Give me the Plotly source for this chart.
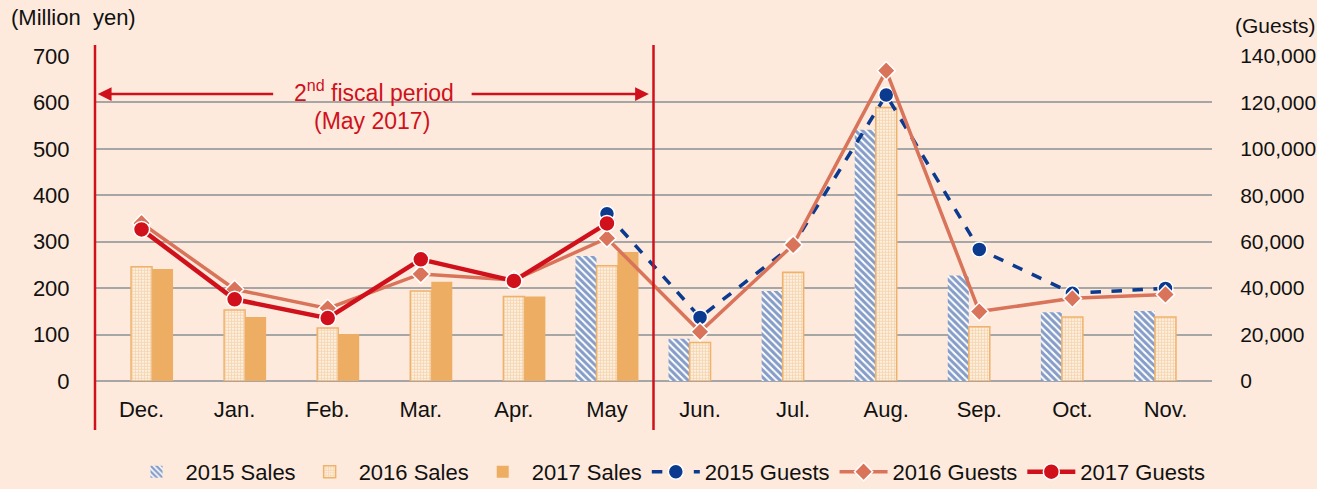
import plotly.graph_objects as go

months = ["Dec.", "Jan.", "Feb.", "Mar.", "Apr.", "May", "Jun.", "Jul.", "Aug.", "Sep.", "Oct.", "Nov."]
sales_2015 = [None, None, None, None, None, 269, 91, 194, 541, 227, 148, 151]
sales_2016 = [246, 153, 114, 194, 182, 248, 83, 234, 589, 117, 138, 138]
sales_2017 = [241, 138, 101, 214, 182, 278, None, None, None, None, None, None]
guests_2015 = [None, None, None, None, None, 72000, 27400, 58600, 123200, 56700, 37800, 39900]
guests_2016 = [68000, 39500, 31300, 46100, 43500, 61500, 21200, 58600, 133700, 29900, 35600, 37300]
guests_2017 = [65300, 35200, 27100, 52400, 43100, 67900, None, None, None, None, None, None]
left_ticks = [0, 100, 200, 300, 400, 500, 600, 700]
right_ticks = [0, 20000, 40000, 60000, 80000, 100000, 120000, 140000]

x = list(range(len(months)))
BG = "#FDEADC"
RED = "#D0111C"
ORANGE = "#EDAE64"
BLUE = "#0B3A8F"
SALMON = "#D9735A"
FONT = "Liberation Sans, Arial, sans-serif"
FS = 22

fig = go.Figure()
fig.add_trace(go.Bar(
    x=x, y=sales_2015, name="2015 Sales",
    marker=dict(color="white", line=dict(width=0),
                pattern=dict(shape="\\", fgcolor=BLUE, bgcolor="white", size=5, solidity=0.6)),
))
fig.add_trace(go.Bar(
    x=x, y=sales_2016, name="2016 Sales",
    marker=dict(color="white", line=dict(width=1.5, color="#EFB26C"),
                pattern=dict(shape=".", fgcolor=ORANGE, bgcolor="white", size=3, solidity=0.7)),
))
fig.add_trace(go.Bar(
    x=x, y=sales_2017, name="2017 Sales",
    marker=dict(color=ORANGE, line=dict(width=0)),
))
fig.add_trace(go.Scatter(
    x=x, y=guests_2015, name="2015 Guests", yaxis="y2", mode="lines+markers",
    line=dict(color=BLUE, width=3.5, dash="dash"),
    marker=dict(symbol="circle", size=15, color=BLUE, line=dict(color="white", width=1.5)),
))
fig.add_trace(go.Scatter(
    x=x, y=guests_2016, name="2016 Guests", yaxis="y2", mode="lines+markers",
    line=dict(color=SALMON, width=3.5),
    marker=dict(symbol="diamond", size=14, color=SALMON, line=dict(color="white", width=1.5)),
))
fig.add_trace(go.Scatter(
    x=x, y=guests_2017, name="2017 Guests", yaxis="y2", mode="lines+markers",
    line=dict(color=RED, width=4.5),
    marker=dict(symbol="circle", size=16, color=RED, line=dict(color="white", width=1.5)),
))

shapes = [
    dict(type="line", xref="paper", yref="paper", x0=0, x1=0, y0=-0.151, y1=1.034,
         line=dict(color=RED, width=2.5), layer="above"),
    dict(type="line", xref="paper", yref="paper", x0=0.5, x1=0.5, y0=-0.151, y1=1.034,
         line=dict(color=RED, width=2.5), layer="above"),
]

annotations = [
    dict(xref="x", yref="y", axref="x", ayref="y", x=-0.47, y=618, ax=1.43, ay=618,
         text="", showarrow=True, arrowhead=2, arrowsize=1.1, arrowwidth=2.5, arrowcolor=RED),
    dict(xref="x", yref="y", axref="x", ayref="y", x=5.45, y=618, ax=3.53, ay=618,
         text="", showarrow=True, arrowhead=2, arrowsize=1.1, arrowwidth=2.5, arrowcolor=RED),
    dict(xref="x", yref="y", x=2.5, y=625, text="2<sup>nd</sup> fiscal period", showarrow=False,
         font=dict(family=FONT, size=23, color=RED)),
    dict(xref="x", yref="y", x=2.48, y=560, text="(May 2017)", showarrow=False,
         font=dict(family=FONT, size=23, color=RED)),
    dict(xref="paper", yref="paper", x=-0.077, y=1.117, xanchor="left", yanchor="middle",
         text="(Million  yen)", showarrow=False, font=dict(family=FONT, size=FS, color="#111")),
    dict(xref="paper", yref="paper", x=1.019, y=1.095, xanchor="left", yanchor="middle",
         text="(Guests)", showarrow=False, font=dict(family=FONT, size=21, color="#111")),
]

fig.update_layout(
    width=1317, height=489,
    margin=dict(l=95, r=105, t=56, b=108, autoexpand=False),
    paper_bgcolor=BG, plot_bgcolor=BG,
    font=dict(family=FONT, size=FS, color="#111"),
    barmode="group", bargap=0.323, bargroupgap=0,
    showlegend=True,
    legend=dict(orientation="h", xref="container", yref="container", x=0.508, xanchor="center",
                y=0.035, yanchor="middle", bgcolor="rgba(0,0,0,0)", font=dict(size=FS),
                itemwidth=48, tracegroupgap=0),
    xaxis=dict(range=[-0.5, 11.5], tickvals=x, ticktext=months, showgrid=False, zeroline=False,
               ticks="outside", ticklen=9, tickcolor="rgba(0,0,0,0)", showline=False,
               tickfont=dict(size=FS)),
    yaxis=dict(range=[0, 700], tickvals=left_ticks, showgrid=True, gridcolor="#A6A6A6", gridwidth=2,
               zeroline=True, zerolinecolor="#A6A6A6", zerolinewidth=2, showline=False,
               ticks="outside", ticklen=20, tickcolor="rgba(0,0,0,0)", tickfont=dict(size=FS)),
    yaxis2=dict(range=[0, 140000], tickvals=right_ticks, overlaying="y", side="right",
                showgrid=False, zeroline=False, tickformat=",", showline=False,
                ticks="outside", ticklen=23, tickcolor="rgba(0,0,0,0)", tickfont=dict(size=21)),
    shapes=shapes, annotations=annotations,
)

fig.write_html("out.html", config={"displayModeBar": False},
               post_script="document.body.style.margin='0';document.body.style.padding='0';")
